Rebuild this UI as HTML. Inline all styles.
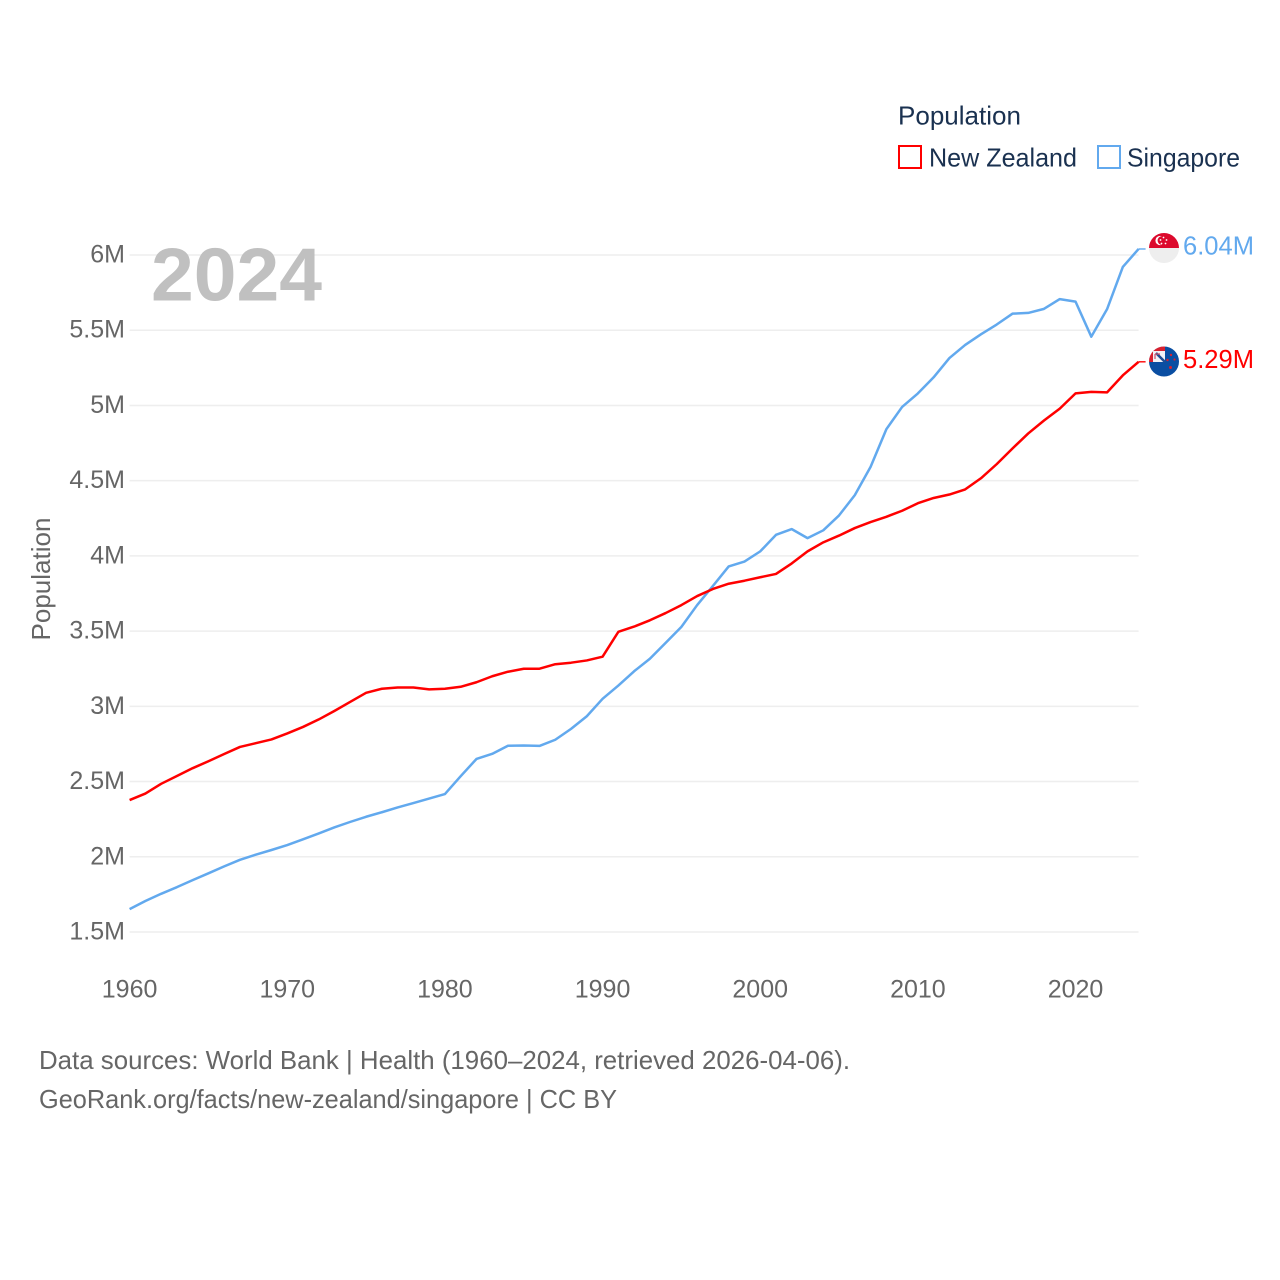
<!DOCTYPE html>
<html lang="en">
<head>
<meta charset="utf-8">
<title>Population: New Zealand and Singapore</title>
<style>
html,body{margin:0;padding:0;background:#fff;}
svg{display:block;font-family:"Liberation Sans",sans-serif;}
</style>
</head>
<body>
<svg id="chart" width="1280" height="1280" viewBox="0 0 1280 1280" xmlns="http://www.w3.org/2000/svg">
  <defs>
    <clipPath id="flag-clip-sg"><circle cx="1164" cy="248" r="15"/></clipPath>
    <clipPath id="flag-clip-nz"><circle cx="1164" cy="361.5" r="15"/></clipPath>
  </defs>
  <rect x="0" y="0" width="1280" height="1280" fill="#fff"/>
  <g id="grid"></g>
  <g id="y-ticks"></g>
  <g id="x-ticks"></g>
  <text x="151" y="300.5" font-size="75" font-weight="bold" fill="#c0c0c0" textLength="171" lengthAdjust="spacingAndGlyphs">2024</text>
  <g id="series"></g>

  <text transform="translate(50,579) rotate(-90)" text-anchor="middle" font-size="26" fill="#666" textLength="123" lengthAdjust="spacingAndGlyphs">Population</text>

  <g>
    <text x="898" y="124.5" font-size="26" fill="#1a3150" textLength="123" lengthAdjust="spacingAndGlyphs">Population</text>
    <g>
      <rect x="899" y="146" width="22" height="22" fill="none" stroke="#ff0000" stroke-width="2"/>
      <text x="929" y="166.5" font-size="26" fill="#1a3150" textLength="148" lengthAdjust="spacingAndGlyphs">New Zealand</text>
    </g>
    <g>
      <rect x="1098" y="146" width="22" height="22" fill="none" stroke="#62a9ee" stroke-width="2"/>
      <text x="1127" y="166.5" font-size="26" fill="#1a3150" textLength="113" lengthAdjust="spacingAndGlyphs">Singapore</text>
    </g>
  </g>

  <g clip-path="url(#flag-clip-sg)">
    <rect x="1149" y="233" width="30" height="15" fill="#dc0a2d"/>
    <rect x="1149" y="248" width="30" height="15" fill="#eeeeee"/>
    <circle cx="1160" cy="240.5" r="4.6" fill="#fff"/>
    <circle cx="1162" cy="240.5" r="4.4" fill="#dc0a2d"/>
    <circle cx="1163.5" cy="237.5" r="0.9" fill="#fff"/>
    <circle cx="1166.5" cy="240" r="0.9" fill="#fff"/>
    <circle cx="1165.5" cy="243.5" r="0.9" fill="#fff"/>
    <circle cx="1161.5" cy="243.5" r="0.9" fill="#fff"/>
    <circle cx="1160.5" cy="240" r="0.9" fill="#fff"/>
  </g>
  <g clip-path="url(#flag-clip-nz)">
    <rect x="1149" y="346" width="30" height="31" fill="#0a4ea2"/>
    <rect x="1149" y="346" width="16" height="16" fill="#f2f2f6"/>
    <rect x="1149" y="346" width="16" height="5" fill="#d8202f"/>
    <rect x="1149" y="346" width="4" height="16" fill="#d8202f"/>
    <path d="M1156 353 L1165 362" stroke="#1e4d94" stroke-width="2.6"/>
    <path d="M1155 354 L1160 354 M1155 354 L1155 359" stroke="#c8506a" stroke-width="1.2" fill="none"/>
    <circle cx="1171" cy="355" r="1.2" fill="#d8202f"/>
    <circle cx="1167.5" cy="360" r="1.2" fill="#d8202f"/>
    <circle cx="1174.5" cy="359.5" r="1.1" fill="#d8202f"/>
    <circle cx="1170.5" cy="367.5" r="1.5" fill="#d8202f"/>
  </g>

  <g>
    <text x="39" y="1069" font-size="26" fill="#666" textLength="811" lengthAdjust="spacingAndGlyphs">Data sources: World Bank | Health (1960–2024, retrieved 2026-04-06).</text>
    <text x="39" y="1108" font-size="26" fill="#666" textLength="578" lengthAdjust="spacingAndGlyphs">GeoRank.org/facts/new-zealand/singapore | CC BY</text>
  </g>
</svg>
<script>
const years = [1960,1961,1962,1963,1964,1965,1966,1967,1968,1969,1970,1971,1972,1973,1974,1975,1976,1977,1978,1979,1980,1981,1982,1983,1984,1985,1986,1987,1988,1989,1990,1991,1992,1993,1994,1995,1996,1997,1998,1999,2000,2001,2002,2003,2004,2005,2006,2007,2008,2009,2010,2011,2012,2013,2014,2015,2016,2017,2018,2019,2020,2021,2022,2023,2024];
const newZealand = [2.377,2.42,2.485,2.537,2.589,2.635,2.683,2.73,2.755,2.78,2.82,2.863,2.913,2.97,3.03,3.09,3.117,3.125,3.125,3.113,3.117,3.13,3.16,3.2,3.23,3.25,3.25,3.28,3.29,3.305,3.33,3.495,3.53,3.572,3.62,3.673,3.733,3.78,3.815,3.835,3.858,3.88,3.95,4.03,4.09,4.135,4.185,4.225,4.26,4.30,4.35,4.385,4.408,4.442,4.516,4.61,4.714,4.814,4.9,4.979,5.08,5.09,5.087,5.2,5.29];
const singapore = [1.652,1.706,1.754,1.798,1.845,1.89,1.936,1.98,2.014,2.045,2.078,2.116,2.155,2.196,2.232,2.266,2.296,2.328,2.357,2.387,2.417,2.536,2.65,2.684,2.738,2.74,2.737,2.778,2.85,2.934,3.05,3.138,3.233,3.316,3.422,3.528,3.673,3.8,3.93,3.962,4.03,4.14,4.178,4.118,4.17,4.269,4.404,4.592,4.842,4.99,5.08,5.187,5.315,5.402,5.473,5.538,5.61,5.615,5.642,5.707,5.69,5.457,5.64,5.921,6.04];
const yTickValues = [1.5,2,2.5,3,3.5,4,4.5,5,5.5,6];
const yTickLabels = ["1.5M","2M","2.5M","3M","3.5M","4M","4.5M","5M","5.5M","6M"];
const xTickValues = [1960,1970,1980,1990,2000,2010,2020];
const xTickLabels = ["1960","1970","1980","1990","2000","2010","2020"];
const nzValueLabel = "5.29M";
const sgValueLabel = "6.04M";

const NS = 'http://www.w3.org/2000/svg';
const plotLeft = 129.6, plotRight = 1138.6, plotTop = 255, plotBottom = 932;
function xScale(year){ return plotLeft + (year - 1960) * (plotRight - plotLeft) / 64; }
function yScale(v){ return plotBottom - (v - 1.5) * (plotBottom - plotTop) / 4.5; }
function make(tag, parent, attrs, text){
  const el = document.createElementNS(NS, tag);
  for (const k in attrs) el.setAttribute(k, attrs[k]);
  if (text !== undefined) el.textContent = text;
  parent.appendChild(el);
  return el;
}
const grid = document.getElementById('grid');
const yTicks = document.getElementById('y-ticks');
const xTicks = document.getElementById('x-ticks');
const series = document.getElementById('series');

yTickValues.forEach(function(v, i){
  const line = make('line', grid, {x1: plotLeft, x2: plotRight, y1: yScale(v), y2: yScale(v), stroke: '#eeeeee', 'stroke-width': 1.5});
  
  
  const t = make('text', yTicks, {x: 125, y: yScale(v) + 7.5, 'text-anchor': 'end', 'font-size': 25, fill: '#666'}, yTickLabels[i]);
  
  
});
xTickValues.forEach(function(y, i){
  const t = make('text', xTicks, {x: xScale(y), y: 997.5, 'text-anchor': 'middle', 'font-size': 25, fill: '#666'}, xTickLabels[i]);
  
  
});
function drawSeries(values, color, name, valueLabel, labelOffset){
  const d = values.map(function(v, i){ return (i ? 'L' : 'M') + xScale(years[i]).toFixed(2) + ' ' + yScale(v).toFixed(2); }).join(' ');
  const last = yScale(values[values.length - 1]);
  const path = make('path', series, {d: d, fill: 'none', stroke: color, 'stroke-width': 2.5, 'stroke-linejoin': 'round'});
  
  
  const stub = make('line', series, {x1: plotRight, x2: plotRight + 7, y1: last, y2: last, stroke: color, 'stroke-width': 1.4});
  
  
  const label = make('text', series, {x: 1183, y: last + labelOffset, 'font-size': 26, fill: color, textLength: 71, lengthAdjust: 'spacingAndGlyphs'}, valueLabel);
  
  
}
drawSeries(singapore, '#62a9ee', 'singapore', sgValueLabel, 5.5);
drawSeries(newZealand, '#ff0000', 'new-zealand', nzValueLabel, 6);
</script>
</body>
</html>
